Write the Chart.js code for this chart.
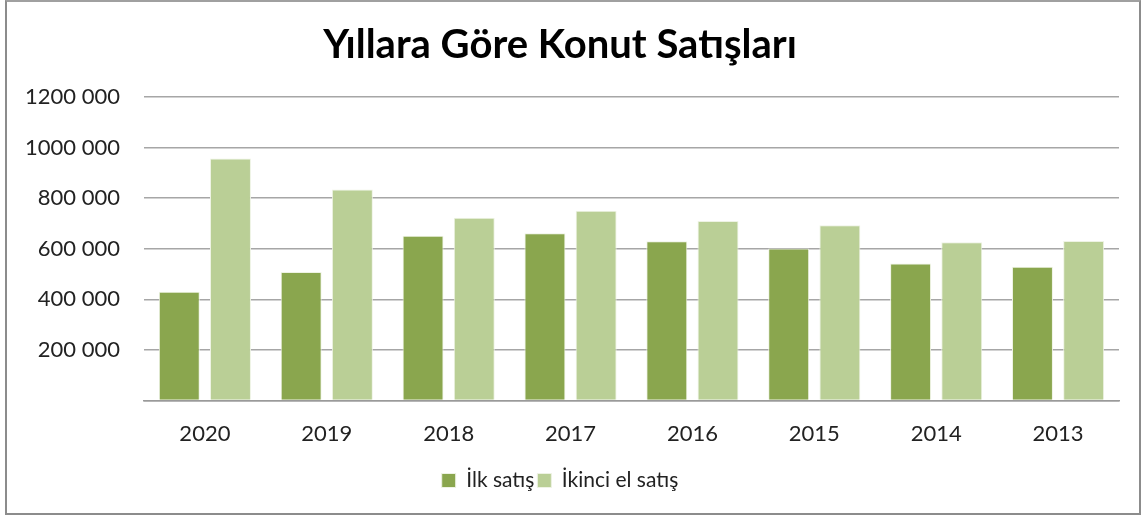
<!DOCTYPE html>
<html>
<head>
<meta charset="utf-8">
<script src="https://cdn.jsdelivr.net/npm/chart.js@4"></script>
<style>
  html, body { margin: 0; padding: 0; background: #fff; }
  #frame {
    position: absolute; left: 5px; top: 0px;
    width: 1136px; height: 515px;
    border-left: 2px solid #8c8c8c; border-top: 2px solid #a0a0a0;
    border-right: 2px solid #8c8c8c; border-bottom: 2px solid #8c8c8c;
    box-sizing: border-box;
  }
  #wrap { position: absolute; left: 0; top: 0; width: 1147px; height: 518px; }
</style>
</head>
<body>
<div id="frame"></div>
<div id="wrap"><canvas id="chart" width="1147" height="518"></canvas></div>
<script>
// DATA
const years = ["2020", "2019", "2018", "2017", "2016", "2015", "2014", "2013"];
const ilkSatis = [430000, 508000, 652000, 661000, 630000, 601000, 542000, 529000];
const ikinciElSatis = [957000, 834000, 723000, 750000, 710000, 693000, 626000, 631000];
const yTicks = [200000, 400000, 600000, 800000, 1000000, 1200000];

const fmt = v => {
  // "1200 000", "800 000"
  const s = String(v);
  return s.slice(0, s.length - 3) + " " + s.slice(-3);
};

const font = "Lato, 'Open Sans', sans-serif";

const cfg = {
  type: 'bar',
  data: {
    labels: years,
    datasets: [
      {
        label: "İlk satış",
        data: ilkSatis,
        backgroundColor: "#8aa64e",
        borderColor: "#eef3e4",
        borderWidth: 1
      },
      {
        label: "İkinci el satış",
        data: ikinciElSatis,
        backgroundColor: "#bacf96",
        borderColor: "#eef3e4",
        borderWidth: 1
      }
    ]
  },
  options: {
    responsive: false,
    animation: false,
    layout: { padding: { left: 1, right: 28, top: 1, bottom: 17 } },
    datasets: { bar: { categoryPercentage: 0.84, barPercentage: 0.8 } },
    plugins: {
      title: {
        display: true,
        text: "Yıllara Göre Konut Satışları",
        color: "#000",
        font: { family: font, size: 40, weight: 'bold' },
        padding: { top: 20, bottom: 28 }
      },
      legend: {
        position: 'bottom',
        labels: {
          color: "#222",
          font: { family: font, size: 21 },
          boxWidth: 14, boxHeight: 14,
          padding: 3
        }
      },
      tooltip: { enabled: false }
    },
    scales: {
      x: {
        grid: { display: false, drawTicks: false },
        border: { display: true, color: "#9a9a9a", width: 1.5 },
        ticks: { color: "#222", font: { family: font, size: 22 }, padding: 20 }
      },
      y: {
        min: 0, max: 1200000,
        afterBuildTicks: axis => { axis.ticks = [0].concat(yTicks).map(v => ({ value: v })); },
        grid: { color: "#a6a6a6", lineWidth: 1.5, drawTicks: false },
        border: { display: false },
        ticks: {
          color: "#222",
          font: { family: font, size: 22 },
          padding: 24,
          callback: v => v === 0 ? "" : fmt(v)
        }
      }
    }
  }
};

new Chart(document.getElementById("chart"), cfg);
</script>
</body>
</html>
